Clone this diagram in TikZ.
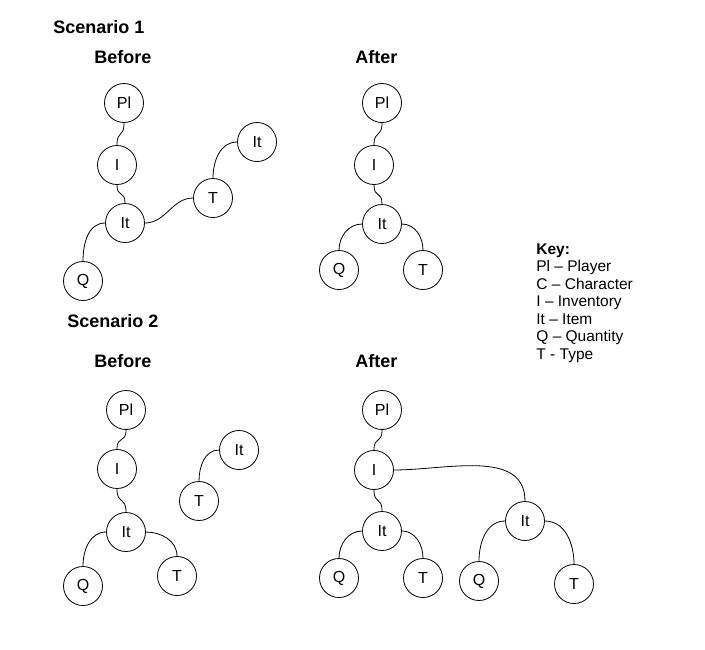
\documentclass[tikz,border=0pt]{standalone}
\usepackage{fontspec}
\setmainfont{Liberation Sans}
\usetikzlibrary{positioning}
\tikzset{
every path/.style={black,line width=0.8pt}, % thin black lines everywhere
every node/.style={font=\fontsize{16}{19}\selectfont},
on grid
}
\newcommand\heading[1]{\textbf{\fontsize{18}{21}\selectfont #1}}

\begin{document}
\begin{tikzpicture}[state/.style={circle, draw, minimum size=39pt, inner sep=0pt},
  title/.style={anchor=base west, inner sep=0pt},
  jog/.style={out=-90, in=90, looseness=1.7}]
   \useasboundingbox (0pt,0pt) rectangle (705pt,-649pt);
   % headings
   \node[title] (s1)  at (53pt,-33pt)   {\heading{Scenario 1}};
   \node[title] (s1b) at (94pt,-63pt)   {\heading{Before}};
   \node[title] (s1a) at (355pt,-63pt)  {\heading{After}};
   \node[title] (s2)  at (67pt,-327pt)  {\heading{Scenario 2}};
   \node[title] (s2b) at (94pt,-367pt)  {\heading{Before}};
   \node[title] (s2a) at (355pt,-367pt) {\heading{After}};
   % scenario 1, before
   \node[state] (b1pl) at (124pt,-103pt) {Pl};
   \node[state] (b1i)  [below left=62pt and 7pt of b1pl] {I};
   \node[state] (b1it) [below right=58pt and 8pt of b1i] {It};
   \node[state] (b1q)  [below left=58pt and 42pt of b1it] {Q};
   \node[state] (b1t)  [above right=25pt and 88pt of b1it] {T};
   \node[state] (b1it2) [above right=56pt and 44pt of b1t] {It};
   % scenario 1, after
   \node[state] (a1pl) [right=258pt of b1pl] {Pl};
   \node[state] (a1i)  [below left=62pt and 8pt of a1pl] {I};
   \node[state] (a1it) [below right=59pt and 8pt of a1i] {It};
   \node[state] (a1q)  [below left=46pt and 43pt of a1it] {Q};
   \node[state] (a1t)  [below right=46pt and 41pt of a1it] {T};
   % scenario 2, before
   \node[state] (b2pl) [below right=307pt and 2pt of b1pl] {Pl};
   \node[state] (b2i)  [below left=59pt and 9pt of b2pl] {I};
   \node[state] (b2it) [below right=63pt and 9pt of b2i] {It};
   \node[state] (b2q)  [below left=54pt and 43pt of b2it] {Q};
   \node[state] (b2t)  [below right=44pt and 51pt of b2it] {T};
   \node[state] (b2t2) [above right=31pt and 73pt of b2it] {T};
   \node[state] (b2it2) [above right=51pt and 40pt of b2t2] {It};
   % scenario 2, after
   \node[state] (a2pl) [right=256pt of b2pl] {Pl};
   \node[state] (a2i)  [below left=60pt and 8pt of a2pl] {I};
   \node[state] (a2it) [below right=61pt and 8pt of a2i] {It};
   \node[state] (a2q)  [below left=47pt and 43pt of a2it] {Q};
   \node[state] (a2t)  [below right=47pt and 41pt of a2it] {T};
   \node[state] (a2it2) [above right=10pt and 143pt of a2it] {It};
   \node[state] (a2q2) [below left=60pt and 46pt of a2it2] {Q};
   \node[state] (a2t2) [below right=63pt and 49pt of a2it2] {T};
   % key
   \node[anchor=north west, align=left, inner sep=0pt,
         font=\fontsize{15.5}{17.5}\selectfont] (key) at (536pt,-243pt)
      {\textbf{Key:}\\ Pl -- Player\\ C -- Character\\ I -- Inventory\\
       It -- Item\\ Q -- Quantity\\ T - Type};
   \path
    (b1pl.south) edge[jog] (b1i.north)
    (b1i.south)  edge[jog] (b1it.north)
    (b1it.west)  edge[out=180,in=90] (b1q.north)
    (b1it.east)  edge[out=0,in=180]  (b1t.west)
    (b1t.north)  edge[out=90,in=180] (b1it2.west)
    (a1pl.south) edge[jog] (a1i.north)
    (a1i.south)  edge[jog] (a1it.north)
    (a1it.west)  edge[out=180,in=90] (a1q.north)
    (a1it.east)  edge[out=0,in=90]   (a1t.north)
    (b2pl.south) edge[jog] (b2i.north)
    (b2i.south)  edge[jog] (b2it.north)
    (b2it.west)  edge[out=180,in=90] (b2q.north)
    (b2it.east)  edge[out=0,in=90]   (b2t.north)
    (b2t2.north) edge[out=90,in=180] (b2it2.west)
    (a2pl.south) edge[jog] (a2i.north)
    (a2i.south)  edge[jog] (a2it.north)
    (a2it.west)  edge[out=180,in=90] (a2q.north)
    (a2it.east)  edge[out=0,in=90]   (a2t.north)
    (a2i.east)   edge[out=0,in=90]   (a2it2.north)
    (a2it2.west) edge[out=180,in=90] (a2q2.north)
    (a2it2.east) edge[out=0,in=90]   (a2t2.north);
\end{tikzpicture}
\end{document}
